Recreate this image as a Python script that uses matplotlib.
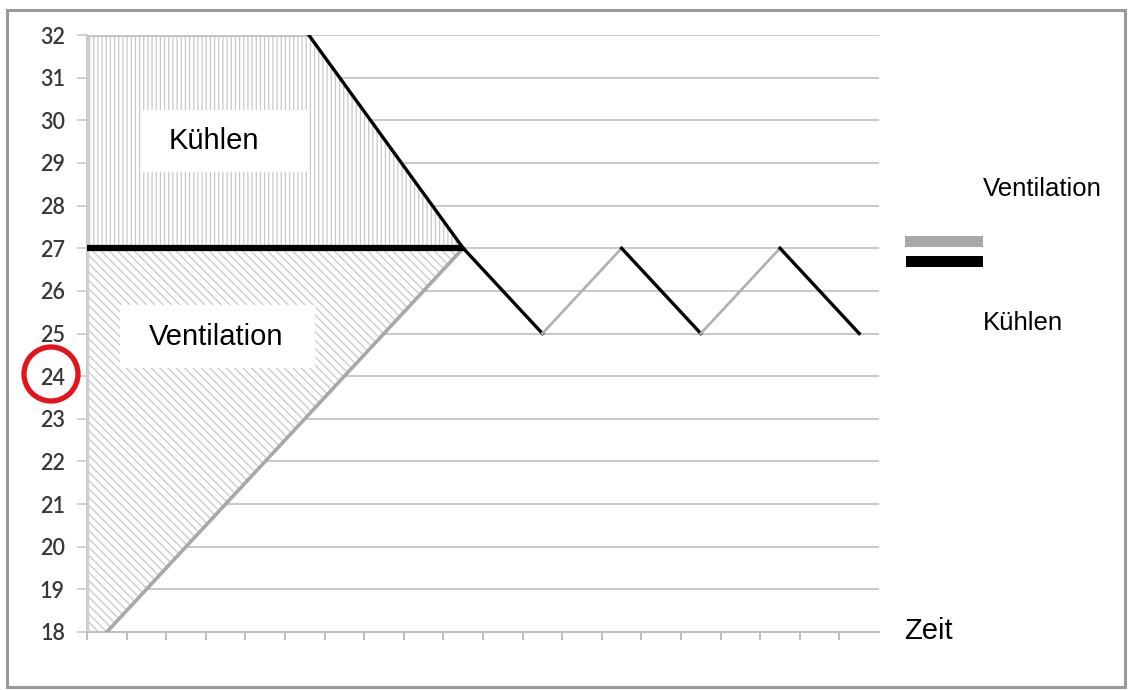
import matplotlib.pyplot as plt
from matplotlib.patches import Rectangle, Circle

# temperature axis
y_ticks = [18, 19, 20, 21, 22, 23, 24, 25, 26, 27, 28, 29, 30, 31, 32]
x_ticks = list(range(20))

# ventilation ramp (grey)
vent_x = [0.5, 9.5]
vent_y = [18, 27]

# cooling: top plateau, then ramp down (black)
cool_x = [0, 5.6, 9.5]
cool_y = [32, 32, 27]

# switch level
set_x = [0, 9.5]
set_y = [27, 27]

# regulation zigzag afterwards
zig_x = [9.5, 11.5, 13.5, 15.5, 17.5, 19.5]
zig_y = [27, 25, 27, 25, 27, 25]

W, H = 1131, 690
fig = plt.figure(figsize=(W / 100, H / 100), dpi=100)
fig.patch.set_facecolor("white")

ax = fig.add_axes([87 / W, 1 - 632 / H, (879 - 87) / W, (632 - 35) / H])
ax.set_xlim(0, 20)
ax.set_ylim(18, 32)

plt.rcParams["hatch.linewidth"] = 0.9

# hatched regions
ax.fill([cool_x[0]] + cool_x + [set_x[0]], [set_y[0]] + cool_y + [set_y[0]],
        facecolor="white", edgecolor="#c8c8c8", hatch="||||", linewidth=0, zorder=2)
ax.fill([vent_x[0], vent_x[1], set_x[0], set_x[0]],
        [vent_y[0], vent_y[1], set_y[0], vent_y[0]],
        facecolor="white", edgecolor="#c8c8c8", hatch="\\\\\\\\", linewidth=0, zorder=2)

# region borders
ax.plot([0, 0], [18, 32], color="#cfcfcf", lw=2.5, zorder=3, solid_capstyle="butt")
ax.plot(cool_x[:2], cool_y[:2], color="#c4c4c4", lw=2.2, zorder=3)
ax.plot(vent_x, vent_y, color="#a8a8a8", lw=2.6, zorder=4)
ax.plot(cool_x[1:], cool_y[1:], color="black", lw=2.4, zorder=5)
ax.plot(set_x, set_y, color="black", lw=4.5, zorder=5, solid_capstyle="butt")

# zigzag: falling = cooling (black), rising = ventilation (grey)
for i in range(len(zig_x) - 1):
    falling = zig_y[i + 1] < zig_y[i]
    ax.plot(zig_x[i:i + 2], zig_y[i:i + 2],
            color="black" if falling else "#b0b0b0",
            lw=2.4 if falling else 1.9, zorder=5)

# grid and axes styling
ax.set_yticks(y_ticks)
ax.set_xticks(x_ticks)
ax.set_xticklabels([])
ax.yaxis.grid(True, color="#c8c8c8", lw=1.4)
ax.set_axisbelow(True)
for s in ["top", "right"]:
    ax.spines[s].set_visible(False)
ax.spines["left"].set_color("#c8c8c8")
ax.spines["bottom"].set_color("#bdbdbd")
ax.spines["left"].set_linewidth(1.4)
ax.spines["bottom"].set_linewidth(1.4)
ax.tick_params(axis="y", length=7, width=1.2, color="#c8c8c8", pad=9,
               labelsize=15.5, labelcolor="#383838")
ax.tick_params(axis="x", length=6, width=1.2, color="#b0b0b0")
for lab in ax.get_yticklabels():
    lab.set_fontfamily(["Lato", "DejaVu Sans"])
    lab.set_fontweight("semibold")
ax.patch.set_alpha(0)

# overlay in pixel coordinates for annotations
ov = fig.add_axes([0, 0, 1, 1], zorder=10)
ov.set_xlim(0, W)
ov.set_ylim(H, 0)
ov.axis("off")
ov.patch.set_alpha(0)

ov.add_patch(Rectangle((7, 10), 1118, 677, fill=False, ec="#9a9a9a", lw=2.2))

ov.add_patch(Rectangle((143, 110), 164, 62, fc="white", ec="none"))
ov.add_patch(Rectangle((120, 305), 195, 63, fc="white", ec="none"))
font = ["Liberation Sans", "DejaVu Sans"]
ov.text(214, 141, "Kühlen", fontsize=21, family=font, ha="center", va="center")
ov.text(216, 337, "Ventilation", fontsize=21, family=font, ha="center", va="center")

ov.add_patch(Rectangle((905, 236), 78, 11, fc="#a8a8a8", ec="none"))
ov.add_patch(Rectangle((906, 256), 77, 11, fc="black", ec="none"))
ov.text(983, 189, "Ventilation", fontsize=18.5, family=font, ha="left", va="center")
ov.text(983, 323, "Kühlen", fontsize=18.5, family=font, ha="left", va="center")
ov.text(904, 631, "Zeit", fontsize=21, family=font, ha="left", va="center")

ov.add_patch(Circle((51, 374), 27, fill=False, ec="#e3141b", lw=3.8))

fig.savefig("out.png", dpi=100)
